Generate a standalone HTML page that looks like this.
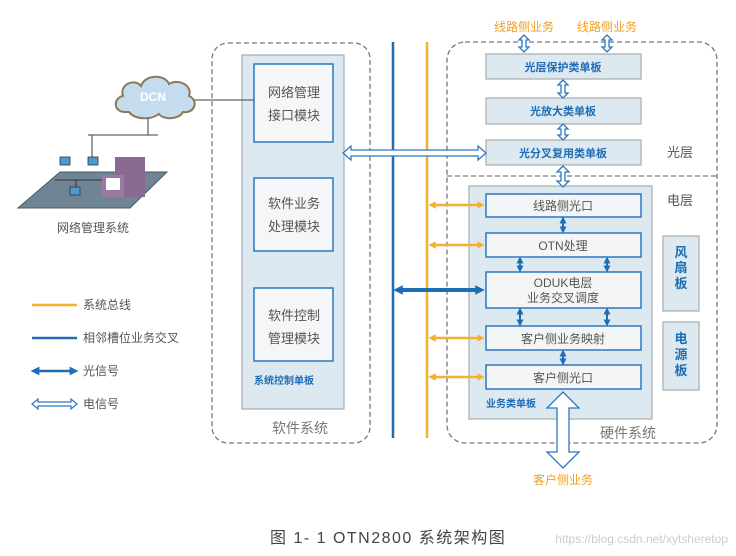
<!DOCTYPE html>
<html><head><meta charset="utf-8"><style>
body{margin:0;background:#fff;width:736px;height:556px;overflow:hidden;font-family:"Liberation Sans","Noto Sans CJK SC",sans-serif}
.a{position:absolute}
</style></head><body>
<svg class="a" style="left:0;top:0" width="736" height="556" viewBox="0 0 736 556" font-family="Liberation Sans, Noto Sans CJK SC, sans-serif">
<defs>
<marker id="ob" viewBox="0 0 10 10" refX="5" refY="5" markerWidth="3" markerHeight="3" orient="auto-start-reverse"><path d="M0,0L10,5L0,10z" fill="#f5b030"/></marker>
<marker id="bb" viewBox="0 0 10 10" refX="5" refY="5" markerWidth="2.4" markerHeight="2.4" orient="auto-start-reverse"><path d="M0,0L10,5L0,10z" fill="#1f6db5"/></marker>
<marker id="bs" viewBox="0 0 10 10" refX="5" refY="5" markerWidth="3.5" markerHeight="3.5" orient="auto-start-reverse"><path d="M0,0L10,5L0,10z" fill="#1f6db5"/></marker>
</defs>
<rect x="212" y="43" width="158" height="400" rx="16" fill="none" stroke="#777" stroke-dasharray="5,3" stroke-width="1.3"/>
<rect x="447" y="42" width="270" height="401" rx="18" fill="none" stroke="#777" stroke-dasharray="5,3" stroke-width="1.3"/>
<line x1="447" y1="176" x2="717" y2="176" stroke="#777" stroke-dasharray="5,3" stroke-width="1.3"/>
<rect x="242" y="55" width="102" height="354" fill="#dde9f1" stroke="#aab" stroke-width="1.2"/>
<g fill="#f4f6f8" stroke="#2d78c0" stroke-width="1.5">
<rect x="254" y="64" width="79" height="78"/><rect x="254" y="178" width="79" height="73"/><rect x="254" y="288" width="79" height="73"/></g>
<g font-size="13" fill="#555" text-anchor="middle">
<text x="294" y="97">网络管理</text><text x="294" y="120">接口模块</text>
<text x="294" y="208">软件业务</text><text x="294" y="231">处理模块</text>
<text x="294" y="320">软件控制</text><text x="294" y="343">管理模块</text>
<text x="300" y="433" font-size="14" fill="#777">软件系统</text>
<text x="628" y="438" font-size="14" fill="#777">硬件系统</text>
<text x="680" y="157" font-size="13">光层</text>
<text x="680" y="205" font-size="13">电层</text>
</g>
<text x="254" y="384" font-size="10" font-weight="bold" fill="#1f6db5">系统控制单板</text>
<line x1="393" y1="42" x2="393" y2="438" stroke="#1f6db5" stroke-width="2.5"/>
<line x1="427" y1="42" x2="427" y2="438" stroke="#f5b030" stroke-width="2.5"/>
<g fill="#dde9f1" stroke="#aaa" stroke-width="1.2">
<rect x="486" y="54" width="155" height="25"/><rect x="486" y="98" width="155" height="26"/><rect x="486" y="140" width="155" height="25"/>
<rect x="469" y="186" width="183" height="233"/>
<rect x="663" y="236" width="36" height="75"/><rect x="663" y="322" width="36" height="68"/></g>
<g font-size="11" font-weight="bold" fill="#1f6db5" text-anchor="middle">
<text x="563" y="71">光层保护类单板</text><text x="563" y="115">光放大类单板</text><text x="563" y="157">光分叉复用类单板</text>
<text x="681" y="257" font-size="13">风</text><text x="681" y="272" font-size="13">扇</text><text x="681" y="288" font-size="13">板</text>
<text x="681" y="343" font-size="13">电</text><text x="681" y="359" font-size="13">源</text><text x="681" y="375" font-size="13">板</text>
</g>
<text x="486" y="407" font-size="10" font-weight="bold" fill="#1f6db5">业务类单板</text>
<g fill="#f4f5f6" stroke="#2d78c0" stroke-width="1.5">
<rect x="486" y="194" width="155" height="23"/><rect x="486" y="233" width="155" height="24"/><rect x="486" y="272" width="155" height="36"/>
<rect x="486" y="326" width="155" height="24"/><rect x="486" y="365" width="155" height="24"/></g>
<g font-size="12" fill="#555" text-anchor="middle">
<text x="563" y="210">线路侧光口</text><text x="563" y="250">OTN处理</text><text x="563" y="287">ODUK电层</text><text x="563" y="302">业务交叉调度</text>
<text x="563" y="343">客户侧业务映射</text><text x="563" y="382">客户侧光口</text></g>
<g stroke="#f5b030" stroke-width="2.5" marker-start="url(#ob)" marker-end="url(#ob)">
<line x1="432" y1="205" x2="481" y2="205"/><line x1="432" y1="245" x2="481" y2="245"/><line x1="432" y1="338" x2="481" y2="338"/><line x1="432" y1="377" x2="481" y2="377"/></g>
<line x1="398" y1="290" x2="480" y2="290" stroke="#1f6db5" stroke-width="4" marker-start="url(#bb)" marker-end="url(#bb)"/>
<g stroke="#1f6db5" stroke-width="2" marker-start="url(#bs)" marker-end="url(#bs)">
<line x1="563" y1="220" x2="563" y2="230"/><line x1="520" y1="260" x2="520" y2="269"/><line x1="607" y1="260" x2="607" y2="269"/>
<line x1="520" y1="311" x2="520" y2="323"/><line x1="607" y1="311" x2="607" y2="323"/><line x1="563" y1="353" x2="563" y2="362"/></g>
<g fill="#fff" stroke="#2d78c0" stroke-width="1.3">
<path d="M343,153 l8,-7 v4 h127 v-4 l8,7 l-8,7 v-4 h-127 v4z"/>
<path d="M524,35 l-5,5 h3 v7 h-3 l5,5 l5,-5 h-3 v-7 h3z"/>
<path d="M607,35 l-5,5 h3 v7 h-3 l5,5 l5,-5 h-3 v-7 h3z"/>
<path d="M563,80 l-5,5 h3 v8 h-3 l5,5 l5,-5 h-3 v-8 h3z"/>
<path d="M563,124 l-5,5 h3 v6 h-3 l5,5 l5,-5 h-3 v-6 h3z"/>
<path d="M563,166 l-6,6 h4 v9 h-4 l6,6 l6,-6 h-4 v-9 h4z"/>
<path d="M563,392 l-16,16 h10 v44 h-10 l16,16 l16,-16 h-10 v-44 h10z"/>
</g>
<g font-size="12" fill="#f0a020" text-anchor="middle">
<text x="524" y="31">线路侧业务</text><text x="607" y="31">线路侧业务</text><text x="563" y="484">客户侧业务</text></g>
<line x1="190" y1="100" x2="254" y2="100" stroke="#666" stroke-width="1.3"/>
<path d="M125,112 c-12,0 -12,-14 -2,-16 c-4,-12 12,-18 18,-10 c4,-12 24,-12 28,-2 c10,-6 24,2 20,12 c10,4 6,18 -6,16 c-4,8 -20,8 -24,2 c-8,6 -24,6 -30,-2z" fill="#c5dcef" stroke="#8a7a5a" stroke-width="2"/>
<text x="153" y="101" font-size="12" font-weight="bold" fill="#fff" text-anchor="middle">DCN</text>
<line x1="148" y1="118" x2="148" y2="135" stroke="#666" stroke-width="1.3"/>
<line x1="88" y1="135" x2="158" y2="135" stroke="#666" stroke-width="1.3"/>
<line x1="92" y1="135" x2="92" y2="160" stroke="#666" stroke-width="1.3"/>
<path d="M18,208 L60,172 L167,172 L130,208z" fill="#6f8595" stroke="#4a5a66"/>
<line x1="55" y1="180" x2="110" y2="180" stroke="#333"/>
<line x1="76" y1="180" x2="76" y2="190" stroke="#333"/>
<rect x="60" y="157" width="10" height="8" fill="#4a9ad6" stroke="#333" stroke-width="0.8"/>
<rect x="88" y="157" width="10" height="8" fill="#4a9ad6" stroke="#333" stroke-width="0.8"/>
<rect x="70" y="187" width="10" height="8" fill="#4a9ad6" stroke="#333" stroke-width="0.8"/>
<rect x="115" y="157" width="30" height="40" fill="#8a6a90"/>
<rect x="102" y="175" width="22" height="22" fill="#9a7aa0"/><rect x="106" y="178" width="14" height="12" fill="#fff"/>
<text x="93" y="232" font-size="12" fill="#555" text-anchor="middle">网络管理系统</text>
<line x1="32" y1="305" x2="77" y2="305" stroke="#f5b030" stroke-width="2.5"/>
<line x1="32" y1="338" x2="77" y2="338" stroke="#1f6db5" stroke-width="2.5"/>
<line x1="35" y1="371" x2="74" y2="371" stroke="#1f6db5" stroke-width="2.5" marker-start="url(#bs)" marker-end="url(#bs)"/>
<path d="M32,404 l6,-5 v3 h33 v-3 l6,5 l-6,5 v-3 h-33 v3z" fill="#fff" stroke="#2d78c0" stroke-width="1.2"/>
<g font-size="12" fill="#555"><text x="83" y="309">系统总线</text><text x="83" y="342">相邻槽位业务交叉</text><text x="83" y="375">光信号</text><text x="83" y="408">电信号</text></g>
<text x="270" y="543" font-size="16" letter-spacing="1.5" fill="#444">图 1- 1 OTN2800 系统架构图</text>
<text x="728" y="543" font-size="12" fill="#ccc" text-anchor="end">https://blog.csdn.net/xytsheretop</text>
</svg>
</body></html>
